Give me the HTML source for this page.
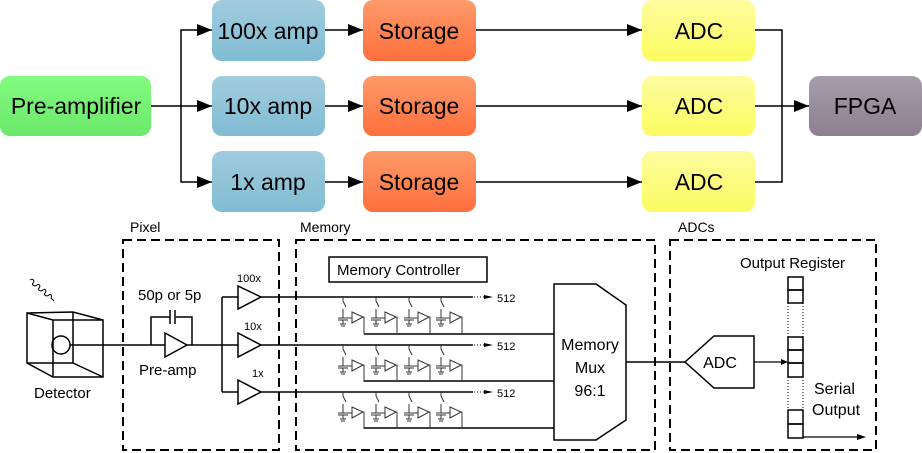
<!DOCTYPE html>
<html><head><meta charset="utf-8"><style>
html,body{margin:0;padding:0;background:#fff;}
svg{display:block;font-family:"Liberation Sans",sans-serif;}
</style></head><body>
<svg width="922" height="453" viewBox="0 0 922 453" xmlns="http://www.w3.org/2000/svg">
<defs>
<linearGradient id="g" x1="0" y1="0" x2="0" y2="1"><stop offset="0" stop-color="#82fb7f"/><stop offset="1" stop-color="#6ce86a"/></linearGradient>
<linearGradient id="b" x1="0" y1="0" x2="0" y2="1"><stop offset="0" stop-color="#a2cbde"/><stop offset="1" stop-color="#80bcd2"/></linearGradient>
<linearGradient id="o" x1="0" y1="0" x2="0" y2="1"><stop offset="0" stop-color="#fe9a6a"/><stop offset="1" stop-color="#fe6f3c"/></linearGradient>
<linearGradient id="y" x1="0" y1="0" x2="0" y2="1"><stop offset="0" stop-color="#fdfda0"/><stop offset="1" stop-color="#fbfb60"/></linearGradient>
<linearGradient id="p" x1="0" y1="0" x2="0" y2="1"><stop offset="0" stop-color="#a59dab"/><stop offset="1" stop-color="#8d7f8f"/></linearGradient>
<marker id="ah" markerWidth="16" markerHeight="12" refX="15" refY="6" orient="auto" markerUnits="userSpaceOnUse"><path d="M0,0 L15,6 L0,12z" fill="#000"/></marker>
</defs>
<!-- top -->
<g font-size="23" text-anchor="middle">
<rect x="0" y="76" width="151" height="60" rx="10" fill="url(#g)"/><text x="76" y="114">Pre-amplifier</text>
<rect x="212" y="0" width="113" height="61" rx="10" fill="url(#b)"/><text x="268" y="39">100x amp</text>
<rect x="212" y="76" width="113" height="60" rx="10" fill="url(#b)"/><text x="268" y="114">10x amp</text>
<rect x="212" y="151" width="113" height="61" rx="10" fill="url(#b)"/><text x="268" y="190">1x amp</text>
<rect x="363" y="0" width="113" height="61" rx="10" fill="url(#o)"/><text x="419" y="39">Storage</text>
<rect x="363" y="76" width="113" height="60" rx="10" fill="url(#o)"/><text x="419" y="114">Storage</text>
<rect x="363" y="151" width="113" height="61" rx="10" fill="url(#o)"/><text x="419" y="190">Storage</text>
<rect x="642" y="0" width="113" height="61" rx="10" fill="url(#y)"/><text x="699" y="39">ADC</text>
<rect x="642" y="76" width="113" height="60" rx="10" fill="url(#y)"/><text x="699" y="114">ADC</text>
<rect x="642" y="151" width="113" height="61" rx="10" fill="url(#y)"/><text x="699" y="190">ADC</text>
<rect x="809" y="76" width="113" height="60" rx="10" fill="url(#p)"/><text x="865" y="114">FPGA</text>
</g>
<g stroke="#000" stroke-width="1.5" fill="none">
<path d="M151,106 H212" marker-end="url(#ah)"/>
<path d="M181,106 V30 H212" marker-end="url(#ah)"/>
<path d="M181,106 V182 H212" marker-end="url(#ah)"/>
<path d="M325,30 H363" marker-end="url(#ah)"/><path d="M325,106 H363" marker-end="url(#ah)"/><path d="M325,182 H363" marker-end="url(#ah)"/>
<path d="M476,30 H642" marker-end="url(#ah)"/><path d="M476,106 H642" marker-end="url(#ah)"/><path d="M476,182 H642" marker-end="url(#ah)"/>
<path d="M755,30 H782 V182 H755"/><path d="M755,106 H809" marker-end="url(#ah)"/>
</g>
<!-- bottom -->
<g stroke="#000" stroke-width="2" fill="none" stroke-dasharray="9,5">
<rect x="123" y="240" width="156" height="210"/>
<rect x="296" y="240" width="359" height="210"/>
<rect x="670" y="240" width="206" height="210"/>
</g>
<g font-size="14" fill="#000">
<text x="130" y="232">Pixel</text><text x="300" y="232">Memory</text><text x="678" y="232">ADCs</text>
<text x="138" y="300" font-size="15">50p or 5p</text>
<text x="139" y="375" font-size="15">Pre-amp</text>
<text x="34" y="398" font-size="15">Detector</text>
<text x="237" y="282" font-size="11">100x</text><text x="244" y="330" font-size="11">10x</text><text x="252" y="377" font-size="11">1x</text>
<text x="337" y="275" font-size="15">Memory Controller</text>
<text x="590" y="350" font-size="16" text-anchor="middle">Memory</text>
<text x="590" y="373" font-size="16" text-anchor="middle">Mux</text>
<text x="590" y="396" font-size="16" text-anchor="middle">96:1</text>
<text x="720" y="368" font-size="16" text-anchor="middle">ADC</text>
<text x="740" y="268" font-size="15">Output Register</text>
<text x="814" y="394" font-size="16">Serial</text><text x="812" y="415" font-size="16">Output</text>
<text x="497" y="302" font-size="11">512</text><text x="497" y="350" font-size="11">512</text><text x="497" y="397" font-size="11">512</text>
</g>
<g stroke="#000" stroke-width="1.5" fill="none">
<!-- detector -->
<path d="M27,313 L73,312 L103,320 L103,377 L53,377 L27,363 Z"/>
<path d="M27,313 L53,320 L103,320 M53,320 V377 M73,312 V363 L27,363 M73,363 L103,377"/>
<circle cx="61" cy="345" r="9"/>
<path d="M70,345 H165" />
<path stroke-width="1" d="M30,280 c3,-2 5,1 3,3 c-2,2 2,4 4,2 c2,-2 4,1 2,3 c-2,2 2,4 4,2 c2,-2 4,1 2,3 c-2,2 2,4 4,2 c2,-2 3,1 2,3 l3,3"/>
<!-- preamp -->
<path d="M165,333 L187,345 L165,357 Z"/>
<path d="M151,345 V317 H170 M176,317 H192 V345"/>
<path d="M170,310 V324 M175,310 V324"/>
<path d="M187,345 H238 M222,297 V392 M222,297 H238 M222,392 H238"/>
<path d="M238,286 L261,297 L238,309 Z M238,333 L261,345 L238,357 Z M238,380 L261,392 L238,404 Z"/>
<path d="M261,297 H473 M261,345 H473 M261,392 H473"/>
<rect x="329" y="257" width="158" height="25"/>
<path d="M554,284 H596 L626,305 V420 L596,440 H554 Z"/>
<path d="M364,334 H554 M364,381 H554 M364,428 H554"/>
<path d="M626,362 H685"/>
<path d="M685,362 L714,336 H754 V388 H714 Z"/>
<path d="M754,362 H782" stroke-width="1.2"/>
<path d="M803,437 H858" stroke-width="1.2"/>
<rect x="788" y="277" width="15" height="13"/><rect x="788" y="290" width="15" height="13"/>
<rect x="788" y="337" width="15" height="13"/><rect x="788" y="350" width="15" height="13"/><rect x="788" y="363" width="15" height="14"/>
<rect x="788" y="410" width="15" height="14"/><rect x="788" y="424" width="15" height="14"/>
</g>
<g fill="#000">
<path d="M781,359 L788,362 L781,365Z"/>
<path d="M857,434 L866,437 L857,440Z"/>
<path d="M484,295 L493,297 L484,299Z M484,343 L493,345 L484,347Z M484,390 L493,392 L484,394Z"/>
</g>
<g stroke="#000" stroke-width="1" stroke-dasharray="1,2">
<path d="M788,303 V337 M803,303 V337 M788,377 V410 M803,377 V410"/>
<path d="M474,297 H484 M474,345 H484 M474,392 H484"/>
</g>
<!-- memory cells -->
<g stroke="#333" stroke-width="1" fill="none">
<g id="row">
<g id="cell"><path d="M343,297 V301 L346,307 M343,309 V318 M338,318 H348 M338,320 H348 M343,320 V324 M340,324 H346 M341,326 H345 M348,318 H352 M352,312 L363,317 L352,323 Z M363,317 H364 V334"/></g>
<use href="#cell" x="33"/><use href="#cell" x="66"/><use href="#cell" x="98"/>
</g>
<use href="#row" y="48"/><use href="#row" y="95"/>
</g>
</svg>
</body></html>
